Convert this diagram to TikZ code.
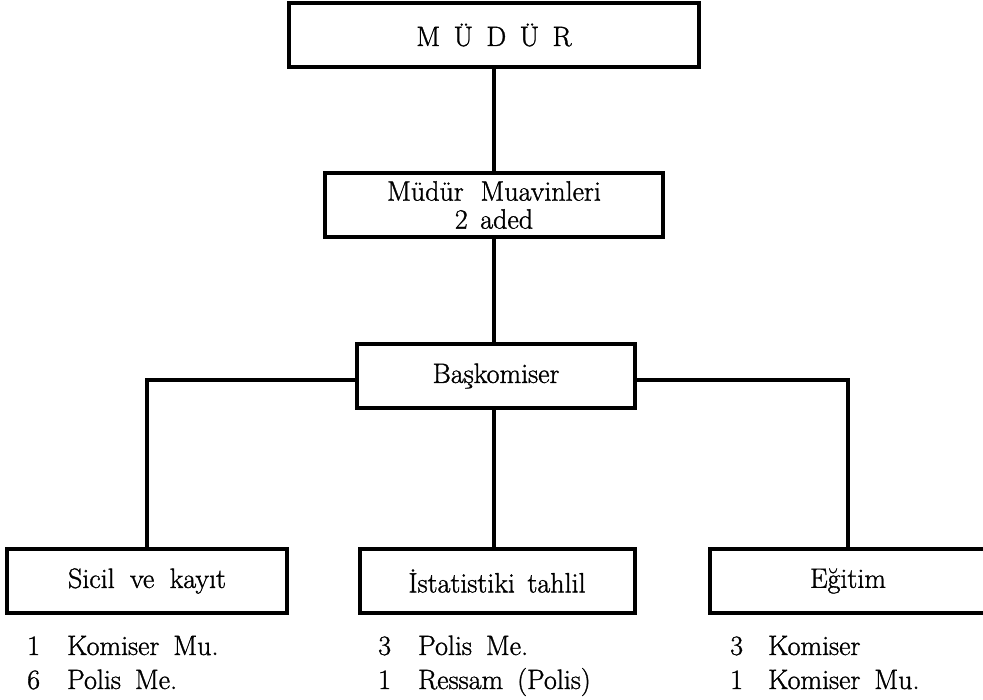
\documentclass[tikz,border=0pt]{standalone}
\usepackage{fontspec}
\setmainfont{Latin Modern Roman}[FakeBold=1.2]
\begin{document}
\begin{tikzpicture}[x=1pt,y=-1pt,
  every node/.style={font=\fontsize{28}{28}\selectfont, inner sep=0pt},
  orgbox/.style={draw, line width=4pt, minimum height=64pt, align=center},
  conn/.style={line width=3.5pt},
  item/.style={anchor=base west}]
\useasboundingbox (0,0) rectangle (983,700);
\clip (0,0) rectangle (983,700);
% boxes
\node[orgbox, minimum width=410pt] (mudur) at (494,35) {M\hspace{0.48em}Ü\hspace{0.48em}D\hspace{0.48em}Ü\hspace{0.48em}R};
\node[orgbox, minimum width=338pt] (muavin) at (494,205) {Müdür\hspace{0.6em}Muavinleri\\2\hspace{0.45em}aded};
\node[orgbox, minimum width=278pt] (bas) at (496,376) {Başkomiser};
\node[orgbox, minimum width=280pt] (sicil) at (147,581) {Sicil\hspace{0.55em}ve\hspace{0.55em}kayıt};
\node[orgbox, minimum width=275pt] (istat) at (497,581) {İstatistiki\hspace{0.45em}tahlil};
\node[orgbox, minimum width=276pt] (egitim) at (848,581) {Eğitim};
% connectors
\draw[conn] (mudur.south -| muavin.north) -- (muavin.north);
\draw[conn] (muavin.south) -- (muavin.south |- bas.north);
\draw[conn] (bas.south -| muavin.south) -- (muavin.south |- istat.north);
\draw[conn] ([yshift=-4pt]bas.west) -| (sicil.north);
\draw[conn] ([yshift=-4pt]bas.east) -| (egitim.north);
% staff lists
\node[item] (s1n) at (27,655) {1};
\node[item] (s1t) at (67,655) {Komiser\hspace{0.5em}Mu.};
\node[item] (s2n) at (27,689) {6};
\node[item] (s2t) at (67,689) {Polis\hspace{0.5em}Me.};
\node[item] (i1n) at (378,655) {3};
\node[item] (i1t) at (418,655) {Polis\hspace{0.5em}Me.};
\node[item] (i2n) at (378,689) {1};
\node[item] (i2t) at (418,689) {Ressam\hspace{0.5em}(Polis)};
\node[item] (e1n) at (730,655) {3};
\node[item] (e1t) at (768,655) {Komiser};
\node[item] (e2n) at (730,689) {1};
\node[item] (e2t) at (768,689) {Komiser\hspace{0.5em}Mu.};
\end{tikzpicture}
\end{document}
